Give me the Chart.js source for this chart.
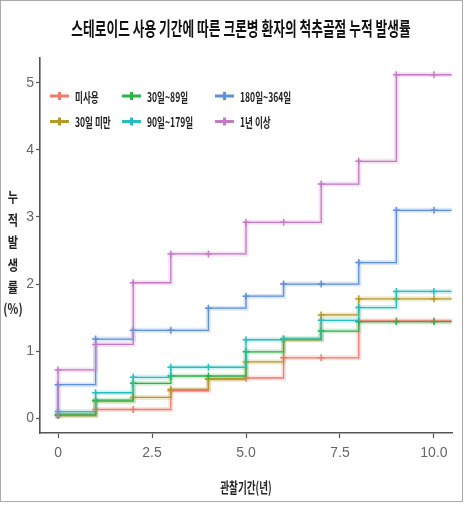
<!DOCTYPE html>
<html>
<head>
<meta charset="utf-8">
<script src="https://cdn.jsdelivr.net/npm/chart.js@4.4.0/dist/chart.umd.min.js"></script>
<style>
  body { margin: 0; background: #fff; }
  #wrap { position: relative; width: 470px; height: 512px; }
  #frame { position: absolute; left: 0; top: 0; width: 463px; height: 502px; border: 1px solid #aaa; box-sizing: border-box; pointer-events: none; }
</style>
</head>
<body>
<div id="wrap">
  <canvas id="chart" width="470" height="512"></canvas>
  <div id="frame"></div>
</div>
<script>
// 관찰 시점(년)과 추적 종료 시점
const years = [0, 1, 2, 3, 4, 5, 6, 7, 8, 9, 10];
const followUpEnd = 10.47;

const groups = ['미사용', '30일 미만', '30일~89일', '90일~179일', '180일~364일', '1년 이상'];
const colors = ['#EE7B6E', '#B39A2A', '#2DB24A', '#2BBDBE', '#5E8FD8', '#C67AC4'];

// 누적 발생률 (%)
const noUse     = [0.06, 0.13, 0.13, 0.41, 0.58, 0.60, 0.90, 0.90, 1.45, 1.45, 1.45];
const under30   = [0.04, 0.25, 0.31, 0.43, 0.59, 0.84, 1.17, 1.54, 1.78, 1.78, 1.78];
const d30to89   = [0.05, 0.27, 0.52, 0.63, 0.63, 0.99, 1.18, 1.30, 1.44, 1.44, 1.44];
const d90to179  = [0.10, 0.38, 0.61, 0.76, 0.76, 1.17, 1.18, 1.46, 1.65, 1.89, 1.89];
const d180to364 = [0.50, 1.18, 1.31, 1.31, 1.64, 1.82, 2.00, 2.00, 2.32, 3.10, 3.10];
const over1y    = [0.72, 1.10, 2.02, 2.45, 2.45, 2.92, 2.92, 3.49, 3.83, 5.12, 5.12];
const seriesValues = [noUse, under30, d30to89, d90to179, d180to364, over1y];

const xTicks = [0, 2.5, 5, 7.5, 10];
const xTickLabels = ['0', '2.5', '5.0', '7.5', '10.0'];
const yTicks = [0, 1, 2, 3, 4, 5];

const titleText = '스테로이드 사용 기간에 따른 크론병 환자의 척추골절 누적 발생률';
const xTitle = '관찰기간(년)';
const yTitleChars = ['누', '적', '발', '생', '률', '(%)'];

function stepPoints(vals) {
    const pts = [{ x: 0, y: 0 }];
    years.forEach((t, i) => pts.push({ x: t, y: vals[i] }));
    pts.push({ x: followUpEnd, y: vals[vals.length - 1] });
    return pts;
}

function withAlpha(hex, a) {
    const n = parseInt(hex.slice(1), 16);
    return `rgba(${(n >> 16) & 255},${(n >> 8) & 255},${n & 255},${a})`;
}

const datasets = [];
seriesValues.forEach((vals, i) => {
    // 흐린 띠
    datasets.push({
        label: groups[i] + ' band',
        data: stepPoints(vals),
        stepped: 'before',
        borderColor: withAlpha(colors[i], 0.22),
        borderWidth: 5,
        pointRadius: 0,
        order: 20 - i
    });
    datasets.push({
        label: groups[i],
        data: stepPoints(vals),
        stepped: 'before',
        borderColor: colors[i],
        borderWidth: 1.3,
        pointStyle: 'cross',
        pointRadius: ctx => (ctx.dataIndex === 0 || ctx.dataIndex === vals.length + 1) ? 0 : 3.5,
        pointBorderWidth: 1.5,
        pointBorderColor: colors[i],
        order: 10 - i
    });
});

const SQUEEZE = 0.64;
const koFont = size => `bold ${size}px "Noto Sans CJK KR", "Noto Sans", sans-serif`;

function squeezed(ctx, text, x, y, size, align, color, sx) {
    ctx.save();
    ctx.font = koFont(size);
    ctx.fillStyle = color;
    ctx.textAlign = align;
    ctx.textBaseline = 'middle';
    ctx.translate(x, y);
    ctx.scale(sx || SQUEEZE, 1);
    ctx.fillText(text, 0, 0);
    ctx.restore();
}

const koreanText = {
    id: 'koreanText',
    afterDraw(chart) {
        const { ctx, chartArea: a } = chart;
        squeezed(ctx, titleText, 241, 29, 19, 'center', '#111', 0.67);
        squeezed(ctx, xTitle, (a.left + a.right) / 2, 487, 15, 'center', '#222');
        yTitleChars.forEach((ch, i) => {
            squeezed(ctx, ch, 13, 197 + i * 22.4, 14, 'center', '#222', 0.8);
        });

        // 범례 (3열 x 2행, 열 우선)
        const colX = [a.left + 10, a.left + 82, a.left + 175];
        groups.forEach((g, i) => {
            const x0 = colX[Math.floor(i / 2)];
            const y = 96 + (i % 2) * 25.5;
            ctx.save();
            ctx.strokeStyle = colors[i];
            ctx.lineWidth = 3;
            ctx.beginPath();
            ctx.moveTo(x0, y);
            ctx.lineTo(x0 + 19, y);
            ctx.moveTo(x0 + 9.5, y - 4);
            ctx.lineTo(x0 + 9.5, y + 4);
            ctx.stroke();
            ctx.restore();
            squeezed(ctx, g, x0 + 25, y + 1, 13, 'left', '#222', 0.66);
        });
    }
};

const tickFont = { family: '"Liberation Sans Narrow", "Liberation Sans", sans-serif', size: 14 };

new Chart(document.getElementById('chart').getContext('2d'), {
    type: 'line',
    data: { datasets },
    options: {
        responsive: false,
        animation: false,
        layout: { padding: { top: 58, right: 18, left: 0, bottom: 0 } },
        plugins: {
            legend: { display: false },
            title: { display: false },
            tooltip: { enabled: false }
        },
        scales: {
            x: {
                type: 'linear',
                min: -0.48,
                max: 10.48,
                afterBuildTicks: s => { s.ticks = xTicks.map(v => ({ value: v })); },
                afterFit: s => { s.height = 79; },
                border: { color: '#555', width: 1.6 },
                grid: { drawOnChartArea: false, tickLength: 5, tickColor: '#555', tickWidth: 1.2 },
                ticks: {
                    font: tickFont,
                    color: '#666',
                    padding: 7,
                    maxRotation: 0,
                    callback: v => xTickLabels[xTicks.indexOf(v)]
                }
            },
            y: {
                type: 'linear',
                min: -0.22,
                max: 5.37,
                afterBuildTicks: s => { s.ticks = yTicks.map(v => ({ value: v })); },
                afterFit: s => { s.width = 40; },
                border: { color: '#555', width: 1.6 },
                grid: { drawOnChartArea: false, tickLength: 4, tickColor: '#555', tickWidth: 1.2 },
                ticks: {
                    font: tickFont,
                    color: '#666',
                    padding: 2,
                    callback: v => String(v)
                }
            }
        }
    },
    plugins: [koreanText]
});
</script>
</body>
</html>
